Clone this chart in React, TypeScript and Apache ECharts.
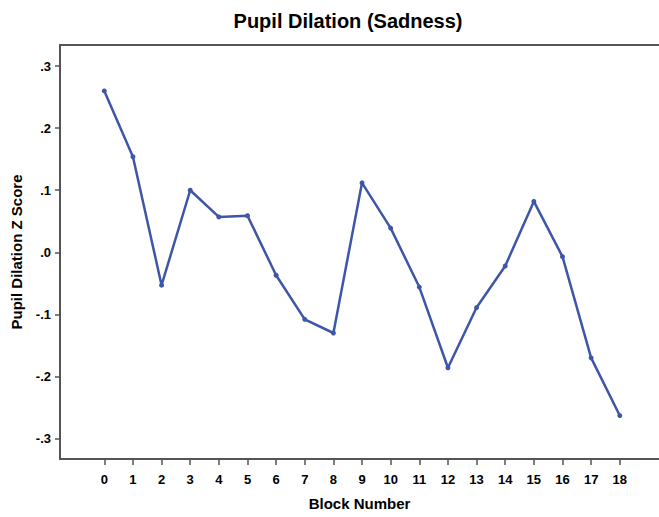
import React, { useEffect, useRef } from "react";
import * as echarts from "echarts";

const blocks = [0, 1, 2, 3, 4, 5, 6, 7, 8, 9, 10, 11, 12, 13, 14, 15, 16, 17, 18];
const zScores = [0.26, 0.154, -0.053, 0.1, 0.057, 0.059, -0.037, -0.108, -0.13, 0.112, 0.039, -0.056, -0.186, -0.089, -0.022, 0.082, -0.007, -0.17, -0.263];
const yTicks = [-0.3, -0.2, -0.1, 0, 0.1, 0.2, 0.3];

const FONT = "'Liberation Sans', Arial, sans-serif";
const AXIS_COLOR = "#555555";
const LINE_COLOR = "#3d56a8";

function fmtY(v: number): string {
  const r = Math.round(v * 10) / 10;
  if (r === 0) return ".0";
  const s = Math.abs(r).toFixed(1).replace(/^0/, "");
  return r < 0 ? "-" + s : s;
}

export default function App() {
  const ref = useRef<HTMLDivElement>(null);
  useEffect(() => {
    if (!ref.current) return;
    const chart = echarts.init(ref.current, null, { renderer: "svg" });
    const xMin = -1.547;
    const xMax = 19.37;
    chart.setOption({
      animation: false,
      backgroundColor: "#ffffff",
      graphic: [
        {
          type: "text",
          x: 348,
          y: 21,
          style: {
            text: "Pupil Dilation (Sadness)",
            font: `bold 20px ${FONT}`,
            fill: "#000",
            textAlign: "center",
            textVerticalAlign: "middle",
          },
        },
      ],
      grid: { left: 60, top: 45, right: 0, bottom: 58, containLabel: false },
      xAxis: [
        {
          type: "value",
          min: xMin,
          max: xMax,
          name: "Block Number",
          nameLocation: "middle",
          nameGap: 37,
          nameTextStyle: { fontFamily: FONT, fontWeight: "bold", fontSize: 15, color: "#000" },
          axisLine: { show: true, onZero: false, lineStyle: { color: AXIS_COLOR, width: 2 } },
          axisTick: { show: true, length: 6, inside: false, customValues: blocks, lineStyle: { color: AXIS_COLOR, width: 1.5 } },
          axisLabel: {
            customValues: blocks,
            margin: 14,
            fontFamily: FONT,
            fontWeight: "bold",
            fontSize: 13,
            color: "#000",
            formatter: (v: number) => String(Math.round(v)),
          },
          splitLine: { show: false },
        },
        {
          type: "value",
          position: "top",
          min: xMin,
          max: xMax,
          axisLine: { show: true, onZero: false, lineStyle: { color: AXIS_COLOR, width: 2 } },
          axisTick: { show: false },
          axisLabel: { show: false },
          splitLine: { show: false },
        },
      ],
      yAxis: {
        type: "value",
        min: -0.333,
        max: 0.334,
        name: "Pupil Dilation Z Score",
        nameLocation: "middle",
        nameGap: 36,
        nameRotate: 90,
        nameTextStyle: { fontFamily: FONT, fontWeight: "bold", fontSize: 15, color: "#000" },
        axisLine: { show: true, onZero: false, lineStyle: { color: AXIS_COLOR, width: 2 } },
        axisTick: { show: true, length: 5, customValues: yTicks, lineStyle: { color: AXIS_COLOR, width: 1.5 } },
        axisLabel: {
          customValues: yTicks,
          margin: 9,
          fontFamily: FONT,
          fontWeight: "bold",
          fontSize: 13,
          color: "#000",
          formatter: (v: number) => fmtY(v),
        },
        splitLine: { show: false },
      },
      series: [
        {
          type: "line",
          xAxisIndex: 0,
          data: blocks.map((b, i) => [b, zScores[i]]),
          symbol: "circle",
          symbolSize: 5,
          lineStyle: { color: LINE_COLOR, width: 2.5 },
          itemStyle: { color: LINE_COLOR },
        },
      ],
    });
    return () => chart.dispose();
  }, []);
  return <div ref={ref} style={{ width: 659, height: 517, position: "absolute", left: 0, top: 0 }} />;
}
